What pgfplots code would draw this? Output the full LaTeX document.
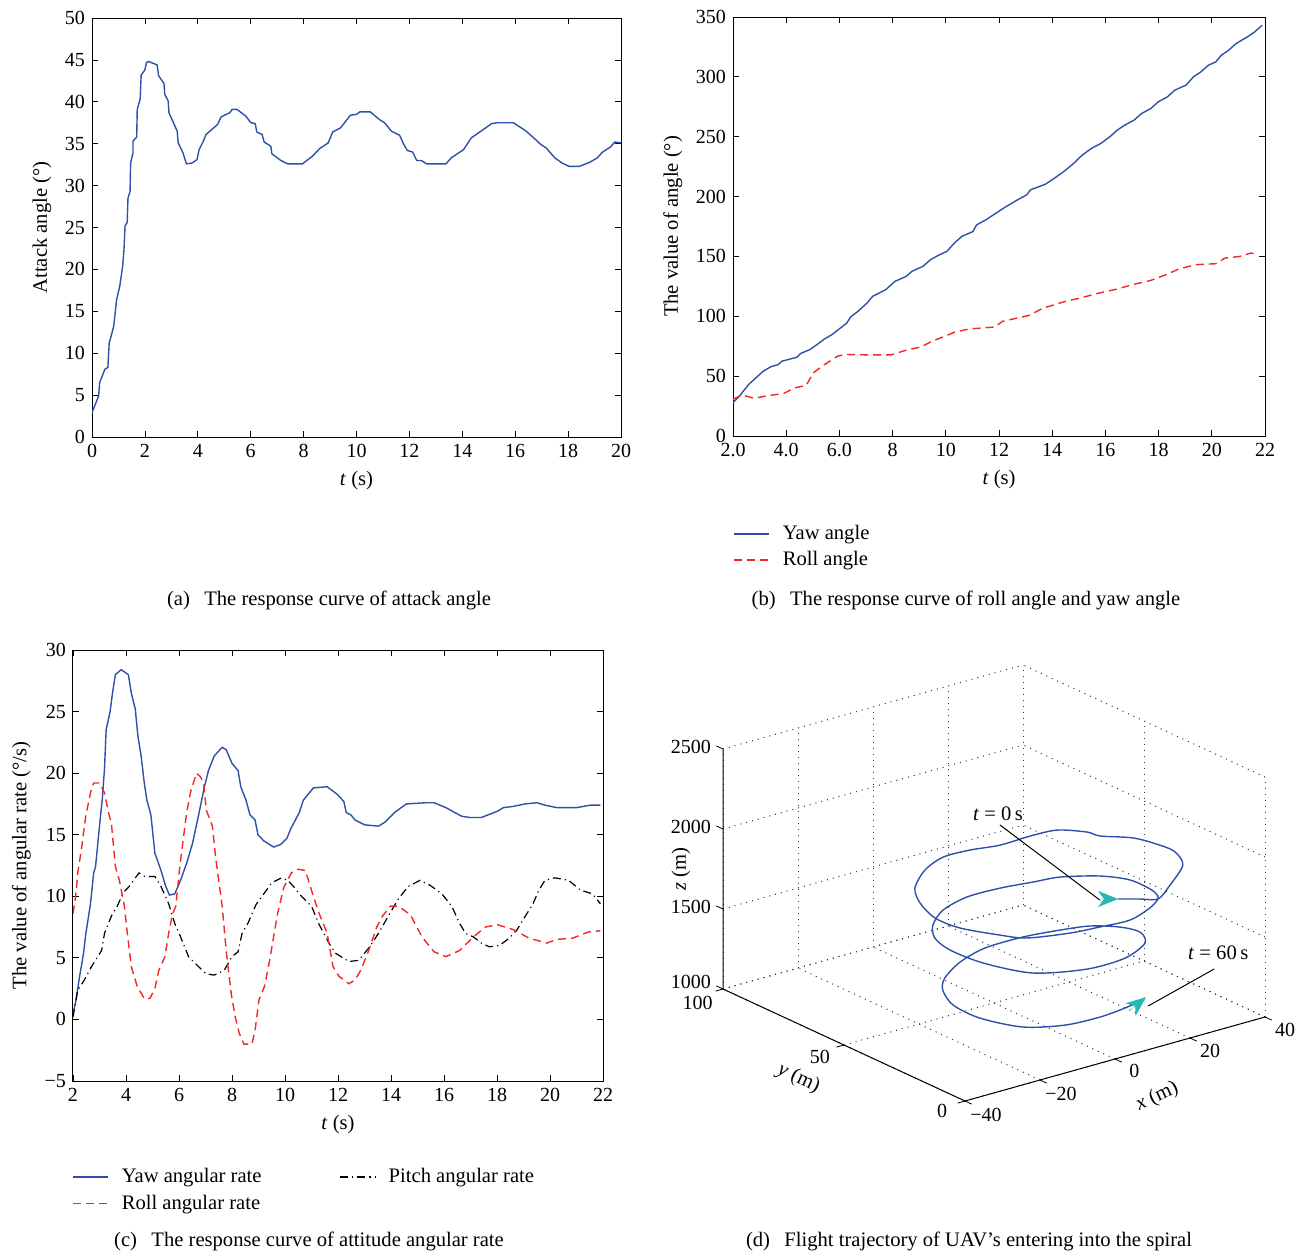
\documentclass[border=0pt]{standalone}
\usepackage{fontspec}
\setmainfont{Liberation Serif}
\usepackage{pgfplots}
\pgfplotsset{compat=1.18}
\usetikzlibrary{arrows.meta}

\definecolor{yawblue}{RGB}{46,80,168}
\definecolor{rollred}{RGB}{240,40,40}
\definecolor{arrowcyan}{RGB}{40,182,182}

\newcommand{\txt}{\fontsize{10.3}{12.4}\selectfont}

\pgfplotsset{
  every axis/.append style={
    scale only axis,
    tick align=inside,
    major tick length=3pt,
    tick style={black, line width=0.4pt},
    axis line style={line width=0.5pt},
    ticklabel style={font=\fontsize{10}{12}\selectfont},
    label style={font=\txt},
    /pgf/number format/assume math mode=true,
    /pgf/number format/1000 sep={},
  },
  legendlook/.style={
    legend style={draw=none, fill=none, font=\txt,
      legend cell align=left, row sep=0.5pt},
    legend image code/.code={\draw[##1] (0pt,0pt) -- (17.5pt,0pt); \path (22pt,0pt);},
  },
  yawstyle/.style={yawblue, line width=0.7pt},
  rollstyle/.style={rollred, line width=0.7pt, dash pattern=on 4pt off 2.5pt},
  pitchstyle/.style={black, line width=0.6pt, dash pattern=on 4pt off 2pt on 0.6pt off 2pt},
}

\begin{document}
\begin{tikzpicture}
\useasboundingbox (0pt,0pt) rectangle (654.5pt,-628pt);

% (a) attack angle
\begin{axis}[
  at={(46pt,-218.5pt)}, anchor=south west,
  width=264.5pt, height=209.5pt,
  xmin=0, xmax=20, ymin=0, ymax=50,
  xtick={0,2,...,20}, ytick={0,5,...,50},
  xlabel={\textit{t} (s)}, ylabel={Attack angle (°)},
]
\addplot[yawstyle] coordinates {
(0,2.9) (0.25,4.9) (0.29,6.5) (0.49,8.1) (0.6,8.3) (0.65,11.2) (0.82,13.2) (0.93,16.4)
(1.05,18.0) (1.16,20.4) (1.21,22.4) (1.25,25.2) (1.33,25.6) (1.36,28.5) (1.44,29.3)
(1.46,32.7) (1.55,33.9) (1.55,35.3) (1.69,35.8) (1.71,39.1) (1.82,40.3) (1.86,43.2)
(2.0,43.8) (2.06,44.7) (2.15,44.8) (2.46,44.4) (2.52,43.1) (2.72,42.2) (2.75,40.9)
(2.88,40.1) (2.91,38.7) (3.22,36.5) (3.26,35.1) (3.44,33.9) (3.57,32.6) (3.79,32.7)
(3.97,33.1) (4.05,34.3) (4.21,35.3) (4.31,36.1) (4.75,37.3) (4.88,38.2) (5.21,38.7)
(5.30,39.1) (5.48,39.1) (5.81,38.3) (6.01,37.5) (6.17,37.4) (6.23,36.4) (6.43,36.1)
(6.51,35.2) (6.76,34.7) (6.80,33.8) (7.14,33.0) (7.40,32.6) (7.96,32.6) (8.33,33.5)
(8.60,34.4) (8.93,35.1) (9.10,36.4) (9.40,36.9) (9.77,38.4) (9.99,38.5) (10.13,38.8)
(10.52,38.8) (10.86,37.9) (11.06,37.5) (11.32,36.5) (11.63,36.0) (11.79,34.9) (11.92,34.2)
(12.12,34.0) (12.28,33.0) (12.45,33.0) (12.65,32.6) (13.38,32.6) (13.58,33.3) (14.05,34.3)
(14.34,35.7) (14.71,36.5) (15.11,37.4) (15.31,37.5) (15.93,37.5) (16.37,36.6) (16.70,35.7)
(16.97,34.9) (17.17,34.5) (17.50,33.3) (17.77,32.7) (18.03,32.3) (18.43,32.3) (18.83,32.8)
(19.10,33.3) (19.30,34.0) (19.60,34.6) (19.76,35.2) (20.0,35.1)
};
\end{axis}

% (b) roll and yaw angle
\begin{axis}[
  at={(366.5pt,-218pt)}, anchor=south west,
  width=266pt, height=209.5pt,
  xmin=2, xmax=22, ymin=0, ymax=350,
  xtick={2,4,...,22}, xticklabels={2.0,4.0,6.0,8,10,12,14,16,18,20,22},
  ytick={0,50,...,350},
  xlabel={\textit{t} (s)}, ylabel={The value of angle (°)},
  legendlook,
  legend style={at={(0,-0.2)}, anchor=north west, xshift=-3pt, yshift=1.5pt},
]
\addplot[yawstyle] coordinates {
(2.0,27.8) (2.24,33.3) (2.59,43.1) (2.86,48.6) (3.14,54.2) (3.42,57.8) (3.70,59.7)
(3.84,62.5) (4.40,65.8) (4.54,68.9) (4.89,72.2) (5.16,76.4) (5.44,81.1) (5.72,84.7)
(5.93,88.3) (6.28,94.4) (6.42,99.4) (6.70,104.2) (7.04,111.1) (7.25,116.7) (7.74,122.2)
(8.09,129.2) (8.51,133.3) (8.72,137.5) (9.14,141.7) (9.42,147.2) (9.76,151.4) (10.04,154.2)
(10.32,161.1) (10.60,166.7) (11.02,170.8) (11.16,176.4) (11.51,180.6) (11.85,185.6)
(12.27,191.7) (12.69,197.2) (13.04,201.4) (13.18,205.6) (13.74,210.3) (14.08,215.3)
(14.43,220.8) (14.78,227.2) (15.13,234.7) (15.48,240.3) (15.83,244.4) (16.17,250.0)
(16.45,255.6) (16.73,259.7) (17.08,263.9) (17.36,269.4) (17.71,273.6) (17.99,279.2)
(18.33,283.3) (18.61,288.9) (19.03,293.1) (19.31,300.0) (19.59,304.2) (19.87,309.7)
(20.15,312.5) (20.36,318.1) (20.63,322.2) (20.91,327.8) (21.33,333.3) (21.61,337.5)
(21.89,343.1)
};
\addplot[rollstyle] coordinates {
(2.0,30.6) (2.24,33.3) (2.52,33.3) (2.79,31.4) (3.21,33.3) (3.91,35.6) (4.33,40.3)
(4.75,42.2) (5.02,52.8) (5.44,59.7) (5.93,66.7) (6.21,68.1) (6.98,67.8) (7.95,67.8)
(8.51,71.7) (9.07,74.4) (9.48,79.2) (9.97,83.3) (10.32,86.7) (10.88,89.4) (11.85,91.1)
(12.13,95.8) (13.11,100.6) (13.67,106.9) (14.50,112.5) (15.06,115.3) (15.76,119.4)
(16.45,122.8) (17.01,126.4) (17.71,130.0) (18.27,134.7) (18.75,139.4) (19.38,143.1)
(20.15,143.9) (20.49,148.6) (21.05,150.0) (21.47,152.8) (21.75,151.9)
};
\legend{Yaw angle, Roll angle}
\end{axis}

% (c) attitude angular rate
\begin{axis}[
  at={(36.5pt,-540.5pt)}, anchor=south west,
  width=265pt, height=215.5pt,
  xmin=2, xmax=22, ymin=-5, ymax=30,
  xtick={2,4,...,22}, ytick={-5,0,...,30},
  yticklabels={−5,0,5,10,15,20,25,30},
  xlabel={\textit{t} (s)}, ylabel={The value of angular rate (°/s)},
]
\addplot[yawstyle] coordinates {
(2.0,0.48) (2.10,1.4) (2.25,3.5) (2.40,5.4) (2.48,6.9) (2.66,9.4) (2.78,11.9) (2.85,12.4)
(3.00,15.7) (3.11,18.0) (3.19,20.4) (3.25,23.5) (3.40,25.0) (3.49,26.5) (3.60,28.0)
(3.82,28.4) (4.09,28.0) (4.20,26.5) (4.35,25.2) (4.45,23.0) (4.57,21.4) (4.69,19.2)
(4.79,17.8) (4.94,16.6) (5.09,13.5) (5.32,12.1) (5.50,10.8) (5.64,10.1) (5.84,10.2)
(6.06,11.3) (6.29,12.7) (6.51,14.3) (6.73,16.5) (6.96,18.9) (7.11,20.2) (7.33,21.4)
(7.63,22.1) (7.78,21.9) (8.00,20.8) (8.23,20.2) (8.33,18.9) (8.53,17.8) (8.68,16.6)
(8.87,16.2) (8.98,15.0) (9.20,14.5) (9.57,14.0) (9.83,14.2) (10.07,14.7) (10.22,15.5)
(10.54,16.8) (10.69,17.8) (11.07,18.8) (11.59,18.9) (11.96,18.3) (12.22,17.7) (12.31,16.8)
(12.49,16.6) (12.64,16.2) (13.01,15.8) (13.53,15.7) (13.76,16.0) (14.13,16.8) (14.58,17.5)
(15.32,17.6) (15.62,17.6) (16.07,17.2) (16.67,16.5) (16.97,16.4) (17.41,16.4) (18.01,16.9)
(18.24,17.2) (18.61,17.3) (19.06,17.5) (19.51,17.6) (19.81,17.4) (20.26,17.2) (21.00,17.2)
(21.52,17.4) (21.90,17.4)
};
\addplot[pitchstyle] coordinates {
(2.0,0.2) (2.18,2.4) (2.40,3.1) (2.70,4.3) (3.08,5.6) (3.19,7.0) (3.45,8.4) (3.67,9.2)
(3.90,10.3) (4.12,10.8) (4.49,11.9) (4.72,11.6) (5.09,11.6) (5.32,10.8) (5.61,9.4)
(5.84,7.8) (6.06,6.7) (6.36,5.1) (6.73,4.3) (7.03,3.7) (7.33,3.6) (7.71,4.0) (8.00,5.1)
(8.23,5.5) (8.38,7.0) (8.60,7.8) (8.90,9.3) (9.20,10.2) (9.50,11.1) (9.87,11.5)
(10.10,11.3) (10.32,10.8) (10.62,10.0) (11.00,9.2) (11.29,7.7) (11.66,6.2) (11.89,5.4)
(12.41,4.7) (12.78,4.8) (13.16,5.8) (13.53,7.0) (13.90,8.4) (14.28,9.8) (14.65,10.8)
(15.10,11.3) (15.47,10.9) (15.92,10.2) (16.29,9.2) (16.59,7.8) (16.81,7.0) (17.11,6.7)
(17.41,6.2) (17.71,5.9) (18.09,6.0) (18.46,6.6) (18.76,7.3) (19.13,8.6) (19.36,9.4)
(19.58,10.5) (19.81,11.3) (20.18,11.5) (20.70,11.3) (21.15,10.5) (21.60,10.2) (21.90,9.4)
};
\addplot[rollstyle] coordinates {
(2.0,8.6) (2.10,10.0) (2.18,11.9) (2.33,14.0) (2.48,16.5) (2.67,18.5) (2.78,19.2) (3.00,19.2)
(3.19,18.4) (3.34,16.8) (3.45,15.9) (3.60,12.4) (3.75,11.3) (3.94,9.2) (4.05,7.0) (4.20,4.3)
(4.42,2.7) (4.69,1.7) (4.90,1.7) (5.09,2.5) (5.24,4.0) (5.47,5.1) (5.61,7.0) (5.76,8.6)
(5.88,9.2) (6.03,12.4) (6.14,14.3) (6.29,16.8) (6.44,18.5) (6.66,20.0) (6.81,19.7)
(6.93,19.2) (7.03,17.0) (7.26,15.7) (7.38,13.2) (7.63,9.2) (7.78,5.6) (7.97,2.1) (8.12,0.2)
(8.27,-1.1) (8.45,-2.0) (8.75,-2.0) (8.87,-0.9) (9.02,1.6) (9.23,2.7) (9.42,4.8) (9.57,6.7)
(9.72,8.6) (9.95,10.7) (10.24,11.9) (10.47,12.2) (10.77,12.1) (11.07,10.0) (11.29,8.6)
(11.59,7.0) (11.81,4.3) (12.04,3.5) (12.41,2.9) (12.64,3.2) (12.86,4.0) (13.16,5.6)
(13.46,7.5) (13.68,8.4) (13.98,9.2) (14.28,9.2) (14.73,8.5) (15.17,6.7) (15.62,5.5)
(16.07,5.1) (16.59,5.6) (17.11,6.7) (17.56,7.5) (18.01,7.7) (18.61,7.3) (19.21,6.6)
(19.88,6.2) (20.26,6.5) (20.85,6.6) (21.45,7.1) (21.90,7.2)
};
\end{axis}
% legend of (c), first column (same layout as the legend of (b))
\begin{axis}[
  at={(36.5pt,-540.5pt)}, anchor=south west,
  width=265pt, height=215.5pt,
  hide axis, xmin=0, xmax=1, ymin=0, ymax=1,
  legendlook,
  legend style={at={(0,-0.188)}, anchor=north west, xshift=-3.5pt, yshift=1pt},
]
\addlegendimage{yawstyle}
\addlegendentry{Yaw angular rate}
\addlegendimage{rollstyle}
\addlegendentry{Roll angular rate}
\end{axis}
% legend of (c), second column
\begin{axis}[
  at={(36.5pt,-540.5pt)}, anchor=south west,
  width=265pt, height=215.5pt,
  hide axis, xmin=0, xmax=1, ymin=0, ymax=1,
  legendlook,
  legend style={at={(0.504,-0.188)}, anchor=north west, xshift=-3.5pt, yshift=1pt},
]
\addlegendimage{pitchstyle}
\addlegendentry{Pitch angular rate}
\end{axis}

% (d) 3-D flight trajectory
\begin{axis}[
  at={(361.5pt,-550.5pt)}, anchor=south west,
  x={(1.875pt,0.525pt)}, y={(-1.21pt,0.56pt)}, z={(0pt,0.08pt)},
  xmin=-40, xmax=40, ymin=0, ymax=100, zmin=1000, zmax=2500,
  xtick={-40,-20,0,20,40}, xticklabels={−40,−20,0,20,40},
  ytick={0,50,100}, ztick={1000,1500,2000,2500},
  zticklabels={\raisebox{4.5pt}{1000},1500,2000,2500},
  scaled z ticks=false,
  major tick length=0pt,
  xticklabel style={xshift=5pt, yshift=1.5pt},
  yticklabel style={xshift=-6pt, yshift=2pt},
  zticklabel style={xshift=-2.5pt},
  grid=major, grid style={black!80, line width=0.5pt, dash pattern=on 0.5pt off 2.5pt},
  axis line style={draw=none},
  clip=false,
]
\addplot3[yawstyle, smooth, tension=0.5] coordinates {
(7.4,10.2,1880) (10.8,6.3,1885) (13.5,3.1,1890) (19.9,8.1,1900) (28.6,16.3,1910)
(32.8,26.0,1897) (33.5,33.4,1883) (32.4,42.7,1870) (28.4,50.2,1856) (28.4,55.6,1843)
(24.9,62.6,1829) (19.0,64.6,1816) (11.6,65.5,1802) (5.6,68.6,1789) (-0.6,70.1,1775)
(-7.5,66.9,1762) (-14.9,59.6,1748) (-18.6,51.7,1735) (-20.7,42.3,1721) (-19.4,34.0,1708)
(-14.5,25.1,1694) (-10.3,20.4,1681) (-0.6,17.7,1667) (7.3,17.6,1654) (15.6,18.0,1640)
(24.0,22.8,1627) (29.7,28.2,1613) (32.3,34.8,1600) (33.1,45.1,1586) (30.3,53.1,1573)
(24.1,60.0,1559) (18.6,62.6,1546) (11.7,65.6,1532) (3.8,67.0,1519) (-4.1,64.7,1505)
(-10.1,59.6,1486) (-13.3,53.8,1466) (-13.9,46.6,1446) (-11.9,36.0,1426) (-6.1,24.5,1406)
(5.5,20.0,1386) (16.9,22.0,1366) (26.7,29.0,1346) (31.0,37.7,1326) (30.6,45.4,1306)
(27.2,52.4,1286) (21.9,56.6,1266) (14.4,60.3,1246) (5.3,61.9,1226) (-2.8,59.7,1206)
(-9.9,55.0,1186) (-13.4,50.4,1166) (-15.9,42.3,1146) (-15.0,32.6,1126) (-9.9,22.7,1106)
(-1.1,19.0,1086) (8.8,19.8,1066) (17.3,22.7,1046) (23.5,26.0,1026)
};
\addplot3[arrowcyan, line width=0.2pt, -{Stealth[length=10pt,width=8pt,inset=3pt]}]
  coordinates {(4.4,13.0,1880) (7.4,10.2,1880)};
\addplot3[arrowcyan, line width=0.2pt, -{Stealth[length=10pt,width=8pt,inset=3pt]}]
  coordinates {(18.6,22.6,1026) (25.9,27.3,1026)};
% axes and their outward ticks
\draw[line width=0.5pt] (axis cs:-40,100,2500) -- (axis cs:-40,100,1000)
  -- (axis cs:-40,0,1000) -- (axis cs:40,0,1000);
\pgfplotsinvokeforeach{-40,-20,0,20,40}{
  \draw[line width=0.4pt] (axis cs:#1,0,1000) -- (axis cs:#1,-2.8,1000);}
\pgfplotsinvokeforeach{0,50,100}{
  \draw[line width=0.4pt] (axis cs:-40,#1,1000) -- (axis cs:-42,#1,1000);}
\pgfplotsinvokeforeach{1000,1500,2000,2500}{
  \draw[line width=0.4pt] (axis cs:-40,100,#1) -- (axis cs:-40,102.8,#1);}
% annotations
\draw[line width=0.5pt] (axis cs:14.35,69.8,1880) -- (axis cs:4.0,12.5,1880);
\node[anchor=south, inner sep=2pt, font=\txt, xshift=-1pt]
  at (axis cs:14.35,69.8,1880) {\textit{t} = 0\,s};
\draw[line width=0.5pt] (axis cs:47.3,32.3,1026) -- (axis cs:23.0,22.0,1026);
\node[anchor=south, inner sep=3pt, font=\txt, xshift=2pt, yshift=1.5pt]
  at (axis cs:47.3,32.3,1026) {\textit{t} = 60\,s};
\node[rotate=25, font=\txt] at (axis cs:-6.5,-27.5,1000) {\textit{x} (m)};
\node[rotate=-25, font=\txt] at (axis cs:-59.5,38.5,1000) {\textit{y} (m)};
\node[rotate=90, font=\txt] at (axis cs:-47,106.5,1750) {\textit{z} (m)};
\end{axis}

% captions
\begin{scope}[every node/.style={font=\txt}]
\node at (164.5pt,-300pt) {(a)\hspace{0.7em}The response curve of attack angle};
\node at (483pt,-300pt) {(b)\hspace{0.7em}The response curve of roll angle and yaw angle};
\node at (154.5pt,-620.5pt) {(c)\hspace{0.7em}The response curve of attitude angular rate};
\node at (484.5pt,-620.5pt) {(d)\hspace{0.7em}Flight trajectory of UAV’s entering into the spiral};
\end{scope}
\end{tikzpicture}
\end{document}
